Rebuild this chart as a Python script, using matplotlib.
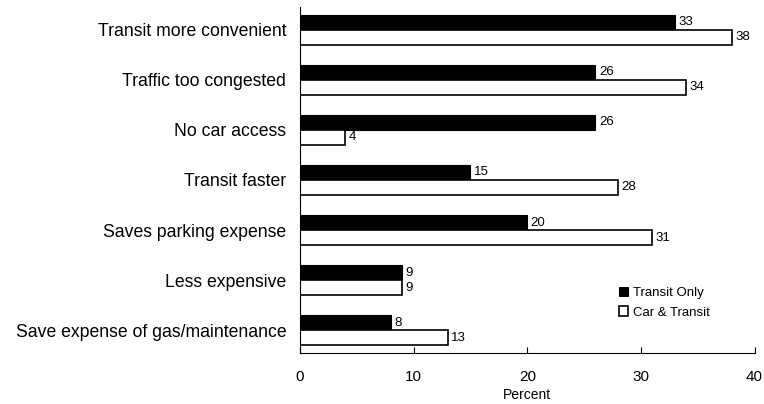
import numpy as np
import matplotlib.pyplot as plt

plt.rcParams['font.family'] = ['Liberation Sans', 'DejaVu Sans']

reasons = [
    "Transit more convenient",
    "Traffic too congested",
    "No car access",
    "Transit faster",
    "Saves parking expense",
    "Less expensive",
    "Save expense of gas/maintenance",
]
transit_only = [33, 26, 26, 15, 20, 9, 8]
car_and_transit = [38, 34, 4, 28, 31, 9, 13]
x_ticks = [0, 10, 20, 30, 40]


def main():
    fig = plt.figure(figsize=(7.64, 4.04), dpi=100)
    ax = fig.add_axes([0.3927, 0.126, 0.595, 0.857])

    y = np.arange(len(reasons))
    h = 0.3
    b1 = ax.barh(y - h / 2, transit_only, height=h, color="black",
                 edgecolor="black", linewidth=0.8, label="Transit Only")
    b2 = ax.barh(y + h / 2, car_and_transit, height=h, color="white",
                 edgecolor="black", linewidth=1.2, label="Car & Transit")

    # value labels just past the end of each bar
    for bars, vals in ((b1, transit_only), (b2, car_and_transit)):
        for bar, v in zip(bars, vals):
            ax.text(v + 0.3, bar.get_y() + bar.get_height() / 2, str(v),
                    va="center", ha="left", fontsize=9.5)

    ax.set_yticks(y)
    ax.set_yticklabels(reasons, fontsize=12.7)
    ax.set_ylim(len(reasons) - 0.54, -0.46)
    ax.set_xlim(0, 40)
    ax.set_xticks(x_ticks)
    ax.tick_params(axis="x", direction="in", length=4, labelsize=11, pad=12)
    ax.tick_params(axis="y", length=0, pad=10)
    ax.set_xlabel("Percent", fontsize=10, labelpad=3)

    for side in ("top", "right"):
        ax.spines[side].set_visible(False)

    ax.legend(loc="lower left", bbox_to_anchor=(0.675, 0.065), frameon=False,
              fontsize=9.5, handlelength=0.7, handleheight=0.7,
              handletextpad=0.4, labelspacing=0.55)

    fig.savefig("out.png", dpi=100)
    plt.close(fig)


if __name__ == "__main__":
    main()
